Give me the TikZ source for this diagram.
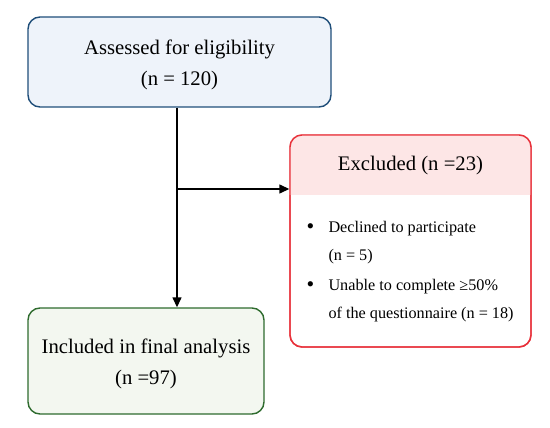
\documentclass[tikz,border=0pt]{standalone}
\usepackage{fontspec}
\setmainfont{Liberation Serif}
\usetikzlibrary{arrows.meta}
\definecolor{bluebd}{HTML}{1F4E79}
\definecolor{bluefill}{HTML}{EEF3FA}
\definecolor{redbd}{HTML}{E8313A}
\definecolor{redhead}{HTML}{FDE6E6}
\definecolor{greenbd}{HTML}{2E6B2E}
\definecolor{greenfill}{HTML}{F3F7F0}
\newcommand{\bigbul}{\makebox[8pt][c]{\raisebox{-0.5pt}{\scalebox{1.35}{\textbullet}}}}
\tikzset{
  box/.style={rectangle, rounded corners=12pt, line width=1.4pt, inner sep=0pt},
  lbl/.style={align=center, font=\fontsize{20.7}{31}\selectfont},
  itm/.style={anchor=north west, align=left, font=\fontsize{16.2}{28}\selectfont},
  conn/.style={line width=1.4pt, -{Triangle[length=10pt,width=9pt]}}
}
\begin{document}
\begin{tikzpicture}[x=1pt,y=-1pt]
\useasboundingbox (0,0) rectangle (550,428);
\node[box, draw=bluebd, fill=bluefill, minimum width=303pt, minimum height=90pt] (assess) at (179.5,62) {};
\node[lbl] (assesst) at (179.5,65) {Assessed for eligibility\\(n = 120)};
\node[box, draw=redbd, fill=white, minimum width=241pt, minimum height=212pt] (excl) at (410.5,241) {};
\begin{scope}
  \clip[rounded corners=12pt] (excl.north west) rectangle (excl.south east);
  \fill[redhead] (excl.north west) rectangle (531,195);
\end{scope}
\node[box, draw=redbd, minimum width=241pt, minimum height=212pt] at (410.5,241) {};
\node[lbl] (exclt) at (410.5,166) {Excluded (n =23)};
\node[itm] (b1) at (303,218) {\bigbul\hspace{14pt}Declined to participate\\\hspace{22pt}(n = 5)};
\node[itm] (b2) at (303,276) {\bigbul\hspace{14pt}Unable to complete ≥50\%\\\hspace{22pt}of the questionnaire (n = 18)};
\node[box, draw=greenbd, fill=greenfill, minimum width=236pt, minimum height=106pt] (incl) at (146,361) {};
\node[lbl] (inclt) at (146,364) {Included in final analysis\\(n =97)};
\coordinate (junc) at (177,189);
\draw[conn] (assess.south -| junc) -- (incl.north -| junc);
\draw[conn] (junc) -- (excl.west |- junc);
\end{tikzpicture}
\end{document}
